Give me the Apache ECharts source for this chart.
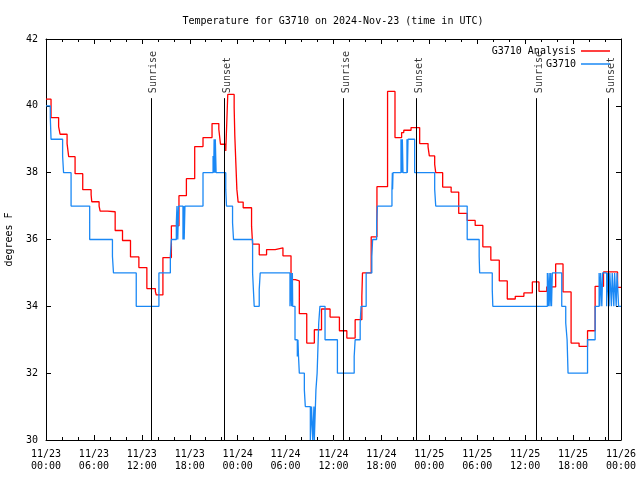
<!DOCTYPE html>
<html>
<head>
<meta charset="utf-8">
<script src="https://cdn.jsdelivr.net/npm/echarts@6/dist/echarts.min.js"></script>
<style>html,body{margin:0;padding:0;background:#fff;}#c{width:640px;height:480px;}</style>
</head>
<body>
<div id="c"></div>
<script>
// hours since 2024-11-23 00:00 UTC; each value holds from its time until the next
const redTimes = [0,0.63,1.58,1.76,2.64,2.84,3.64,4.6,5.65,5.73,6.65,6.78,7.7,8.66,9.58,10.58,11.63,12.63,13.69,13.81,14.64,15.7,16.65,17.58,18.62,19.66,20.79,21.64,21.85,22.51,22.76,23.56,23.64,23.77,23.9,24.06,24.69,25.74,25.87,26.7,27.62,28.7,29.67,30.68,31.22,31.72,32.65,33.6,34.5,35.57,36.74,37.67,38.71,39.55,39.63,40.72,41.44,42.77,43.7,44.53,44.8,45.71,46.79,47.84,48.0,48.67,48.8,49.67,50.73,51.68,52.74,53.74,54.7,55.7,56.76,57.76,58.76,59.84,60.9,61.73,62.7,63.82,64.74,65.75,66.75,67.81,68.76,69.81,71.57,72];
const redValues = [40.2,39.65,39.38,39.15,38.87,38.48,37.97,37.49,37.34,37.13,37.0,36.85,36.83,36.27,35.97,35.48,35.16,34.53,34.45,34.34,35.46,36.41,37.31,37.82,38.78,39.05,39.47,39.3,38.85,38.65,40.34,39.95,39.12,38.3,37.5,37.12,36.95,36.4,35.86,35.54,35.7,35.75,35.51,34.8,34.76,33.78,32.9,33.3,33.92,33.68,33.27,33.05,33.6,34.3,35.0,36.08,37.58,40.43,39.05,39.2,39.27,39.35,38.87,38.77,38.5,38.25,38.0,37.57,37.42,36.78,36.57,36.42,35.78,35.38,34.76,34.22,34.3,34.4,34.73,34.45,34.58,35.27,34.43,32.9,32.8,33.27,34.6,35.03,34.57,34.57];

const blueTimes = [0,0.54,0.63,2.08,2.2,3.14,5.47,8.32,8.45,11.3,14.14,15.57,15.7,16.32,16.4,16.5,16.6,17.15,17.25,17.3,17.4,19.66,20.92,21.0,21.05,21.15,21.2,21.3,22.51,22.6,23.36,23.48,25.87,26.07,26.7,26.82,30.55,30.65,30.75,30.85,30.89,31.18,31.47,31.55,31.62,31.72,32.35,32.47,33.1,33.25,33.4,33.55,33.6,33.8,33.95,34.15,34.3,34.94,36.49,38.59,38.71,39.34,39.45,40.09,40.8,40.9,41.4,41.5,43.32,43.37,43.4,43.45,44.45,44.55,44.62,44.7,45.2,45.25,45.33,46.16,48.67,48.8,52.74,54.24,54.3,55.88,55.95,62.78,62.9,63.0,63.1,63.2,63.3,63.4,64.58,65.08,65.25,65.37,67.81,68.76,69.26,69.35,69.45,69.6,69.7,70.2,70.3,70.5,70.6,70.8,70.9,71.1,71.2,71.4,71.5,71.7,72];
const blueValues = [40,39.65,39,38.5,38,37,36,35.5,35,34,35,35.5,36,36.5,37,36,37,36,37,36,37,38,38.5,38,39,38,39,38,37.5,37,36.5,36,35,34,34.5,35,34,35,34,35,34,33,32.5,33,32.5,32,31.5,31,30,31,30,31,30,31.5,32,33.5,34,33,32,32.5,33,33.5,34,35,35.5,36,36.5,37,37.5,38,37.5,38,39,38,39,38,39,38,39,38,37.5,37,36,35.5,35,34.5,34,35,34,35,34,35,34,35,34,33.5,33,32,33,34,35,34,35,34,35,34,35,34,35,34,35,34,35,34,35,34,34];

const sunTimes = [13.13,22.30,37.24,46.41,61.35,70.39];
const sunLabels = ['Sunrise','Sunset','Sunrise','Sunset','Sunrise','Sunset'];
const xTickLabels = ['11/23\n00:00','11/23\n06:00','11/23\n12:00','11/23\n18:00','11/24\n00:00','11/24\n06:00','11/24\n12:00','11/24\n18:00','11/25\n00:00','11/25\n06:00','11/25\n12:00','11/25\n18:00','11/26\n00:00'];
const yTicks = [30,32,34,36,38,40,42];

const FONT = 'DejaVu Sans Mono';
const sunLineTop = 40.23;
const sunLabelY = 40.38;

function pairs(t, v) { return t.map((x, i) => [x, v[i]]); }

const chart = echarts.init(document.getElementById('c'), null, {renderer: 'canvas'});
const xCommon = {
  type: 'value', min: 0, max: 72, interval: 6,
  axisLine: {show: true, onZero: false, lineStyle: {color: '#000', width: 1}},
  axisTick: {show: true, inside: true, length: 5, lineStyle: {color: '#000'}},
  minorTick: {show: true, splitNumber: 3, length: 3, lineStyle: {color: '#000'}},
  splitLine: {show: false}
};
const yCommon = {
  type: 'value', min: yTicks[0], max: yTicks[yTicks.length - 1], interval: 2,
  axisLine: {show: true, onZero: false, lineStyle: {color: '#000', width: 1}},
  axisTick: {show: true, inside: true, length: 5, lineStyle: {color: '#000'}},
  splitLine: {show: false}
};
chart.setOption({
  animation: false,
  backgroundColor: '#fff',
  textStyle: {fontFamily: FONT},
  title: {
    text: 'Temperature for G3710 on 2024-Nov-23 (time in UTC)',
    left: 328, top: 11, textAlign: 'center',
    textStyle: {fontFamily: FONT, fontSize: 10, fontWeight: 'normal', color: '#000'}
  },
  grid: {left: 46, right: 19, top: 39, bottom: 40, outerBoundsMode: 'none', containLabel: false},
  legend: [
    {data: ['G3710 Analysis'], right: 30, top: 46, align: 'right', icon: 'rect', itemWidth: 29, itemHeight: 1.5, itemGap: 0,
     textStyle: {fontFamily: FONT, fontSize: 10, color: '#000'}, padding: 0},
    {data: ['G3710'], right: 30, top: 59, align: 'right', icon: 'rect', itemWidth: 29, itemHeight: 1.5, itemGap: 0,
     textStyle: {fontFamily: FONT, fontSize: 10, color: '#000'}, padding: 0}
  ],
  xAxis: [
    Object.assign({}, xCommon, {position: 'bottom',
      axisLabel: {show: true, margin: 8, fontFamily: FONT, fontSize: 10, color: '#000', lineHeight: 12.5,
        formatter: v => xTickLabels[Math.round(v / 6)]}}),
    Object.assign({}, xCommon, {position: 'top', axisLabel: {show: false}})
  ],
  yAxis: [
    Object.assign({}, yCommon, {position: 'left',
      name: 'degrees F', nameLocation: 'middle', nameGap: 32, nameRotate: 90,
      nameTextStyle: {fontFamily: FONT, fontSize: 10, color: '#000'},
      axisLabel: {show: true, margin: 8, fontFamily: FONT, fontSize: 10, color: '#000'}}),
    Object.assign({}, yCommon, {position: 'right', axisLabel: {show: false}})
  ],
  series: [
    {
      name: 'Sun', type: 'scatter', xAxisIndex: 0, yAxisIndex: 0,
      symbolSize: 0, silent: true,
      data: sunTimes.map((t, i) => ({value: [t, sunLabelY], name: sunLabels[i]})),
      label: {show: true, formatter: p => p.name, rotate: 90, position: [0, 0], align: 'left', verticalAlign: 'middle',
        offset: [0, 3], fontFamily: FONT, fontSize: 10, color: '#000'},
      markLine: {
        silent: true, symbol: 'none', label: {show: false},
        lineStyle: {color: '#000', width: 1, type: 'solid'},
        data: sunTimes.map(t => [{coord: [t, sunLineTop]}, {coord: [t, yTicks[0]]}])
      }
    },
    {
      name: 'G3710 Analysis', type: 'line', step: 'end', symbol: 'none', showSymbol: false,
      color: '#ff0000', lineStyle: {color: '#ff0000', width: 1.3},
      data: pairs(redTimes, redValues)
    },
    {
      name: 'G3710', type: 'line', step: 'end', symbol: 'none', showSymbol: false,
      color: '#1a88f5', lineStyle: {color: '#1a88f5', width: 1.3},
      data: pairs(blueTimes, blueValues)
    }
  ]
});
</script>
</body>
</html>
